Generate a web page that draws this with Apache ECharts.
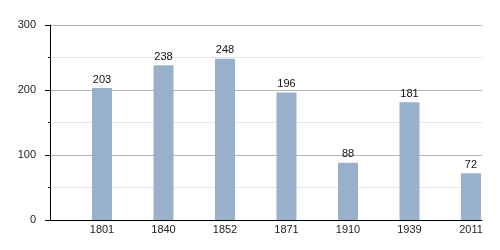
<!DOCTYPE html>
<html>
<head>
<meta charset="utf-8">
<script src="https://cdn.jsdelivr.net/npm/echarts@6/dist/echarts.min.js"></script>
<style>html,body{margin:0;padding:0;background:#fff}#c{width:500px;height:250px}</style>
</head>
<body>
<div id="c"></div>
<script>
var years = ['1801', '1840', '1852', '1871', '1910', '1939', '2011'];
var population = [203, 238, 248, 196, 88, 181, 72];
var yTicks = [0, 100, 200, 300];

var chart = echarts.init(document.getElementById('c'), null, {renderer: 'canvas'});
var idx = years.map(function (_, i) { return i; });
chart.setOption({
  animation: false,
  backgroundColor: '#ffffff',
  textStyle: {fontFamily: 'Liberation Sans, Arial, sans-serif'},
  grid: {left: 50, right: 18, top: 25, bottom: 30, containLabel: false},
  xAxis: {
    type: 'value',
    min: -0.8455,
    max: 6.179,
    axisLine: {show: true, onZero: false, lineStyle: {color: '#000', width: 1}},
    axisTick: {show: false},
    splitLine: {show: false},
    axisLabel: {
      customValues: idx,
      color: '#222',
      fontSize: 11,
      margin: 4,
      formatter: function (v) { return years[Math.round(v)]; }
    }
  },
  yAxis: {
    type: 'value',
    min: yTicks[0],
    max: yTicks[yTicks.length - 1],
    interval: 100,
    axisLine: {show: true, onZero: false, lineStyle: {color: '#000', width: 1}},
    axisTick: {show: true, length: 5, lineStyle: {color: '#000'}},
    minorTick: {show: true, splitNumber: 2, length: 2, lineStyle: {color: '#000'}},
    splitLine: {show: true, lineStyle: {color: '#b4b4b4', width: 1}},
    minorSplitLine: {show: true, lineStyle: {color: '#e6e6e6', width: 1}},
    axisLabel: {color: '#222', fontSize: 11, margin: 14}
  },
  series: [{
    type: 'bar',
    barWidth: 20,
    data: population.map(function (v, i) { return [i, v]; }),
    itemStyle: {color: '#98b0ca'},
    label: {
      show: true,
      position: 'top',
      distance: 3,
      color: '#111',
      fontSize: 11,
      formatter: function (p) { return p.value[1]; }
    }
  }]
});
</script>
</body>
</html>
